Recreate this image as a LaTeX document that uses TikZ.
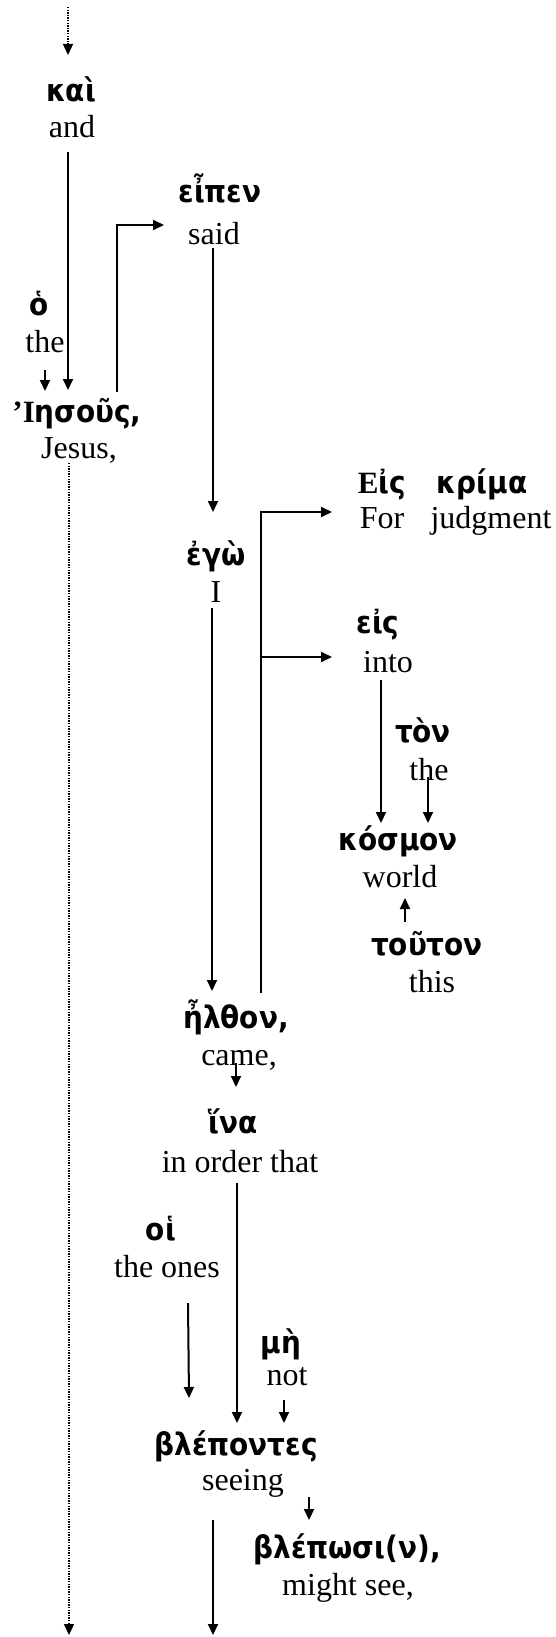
\documentclass[tikz,border=0pt]{standalone}
\usepackage{fontspec}
\setmainfont{Liberation Serif}
\newfontfamily\gkfont{DejaVu Sans}[FakeStretch=0.9]
\newfontfamily\capfont{Liberation Serif}
\usetikzlibrary{arrows.meta,calc}

\tikzset{
  gk/.style={anchor=base,inner sep=0pt,font=\gkfont\bfseries\fontsize{31}{34}\selectfont},
  en/.style={anchor=base,inner sep=0pt,font=\fontsize{32}{36}\selectfont},
  link/.style={line width=2pt,-{Triangle[length=11pt,width=10pt]}},
  trail/.style={line width=1.4pt,dash pattern=on 1.4pt off 1.2pt,-{Triangle[length=11pt,width=10pt]}},
}
\newcommand{\Cap}[1]{{\capfont\bfseries #1}}

\begin{document}
\begin{tikzpicture}[x=1pt,y=-1pt]
\useasboundingbox (0,0) rectangle (555,1637);

% words: Greek line above, English gloss below
\node[gk] (kai)      at (71,102)   {καὶ};
\node[en] (and)      at (72,138)   {and};
\node[gk] (eipen)    at (220,203)  {εἶπεν};
\node[en] (said)     at (214,245)  {said};
\node[gk] (ho)       at (39,315)   {ὁ};
\node[en] (the1)     at (45,352)   {the};
\node[gk] (iesous)   at (77,422)   {\Cap{’Ι}ησοῦς,};
\node[en] (jesus)    at (79,458)   {Jesus,};
\node[gk] (eis1)     at (382,493)  {\Cap{Ε}ἰς};
\node[gk] (krima)    at (482,493)  {κρίμα};
\node[en] (for)      at (382,528)  {For};
\node[en] (judgment) at (491,528)  {judgment};
\node[gk] (ego)      at (216,565)  {ἐγὼ};
\node[en] (I)        at (216,602)  {I};
\node[gk] (eis2)     at (378,633)  {εἰς};
\node[en] (into)     at (388,672)  {into};
\node[gk] (ton)      at (423,742)  {τὸν};
\node[en] (the2)     at (429,780)  {the};
\node[gk] (kosmon)   at (398,850)  {κόσμον};
\node[en] (world)    at (400,887)  {world};
\node[gk] (touton)   at (427,955)  {τοῦτον};
\node[en] (this)     at (432,992)  {this};
\node[gk] (elthon)   at (236,1028) {ἦλθον,};
\node[en] (came)     at (239,1065) {came,};
\node[gk] (hina)     at (233,1133) {ἵνα};
\node[en] (inorder)  at (240,1172) {in order that};
\node[gk] (hoi)      at (161,1240) {οἱ};
\node[en] (theones)  at (167,1277) {the ones};
\node[gk] (me)       at (281,1353) {μὴ};
\node[en] (not)      at (287,1385) {not};
\node[gk] (blepontes) at (236,1455) {βλέποντες};
\node[en] (seeing)   at (243,1490) {seeing};
\node[gk] (blepwsi)  at (347,1558) {βλέπωσι(ν),};
\node[en] (mightsee) at (348,1595) {might see,};

% loose ends of the dotted trails and the last link
\coordinate (topend) at (68,7);
\coordinate (leftend) at (69,1635);
\coordinate (midend) at (213,1635);

% dotted trails
\draw[trail] (topend) -- ($(kai.base)+(-3,-47)$);
\draw[trail] ($(jesus.base)+(-10,5)$) -- (leftend);

% links
\draw[link] ($(and.base)+(-4,14)$) -- ($(iesous.base)+(-9,-32)$);
\draw[link] ($(the1.base)+(0,18)$) -- ($(iesous.base)+(-32,-31)$);
\draw[link] ($(iesous.base)+(40,-30)$) |- ($(said.base)+(-50,-20)$);
\draw[link] ($(said.base)+(-1,3)$) -- ($(ego.base)+(-3,-53)$);
\draw[link] ($(I.base)+(-4,6)$) -- ($(elthon.base)+(-24,-37)$);
\draw[link] ($(elthon.base)+(25,-35)$) |- ($(for.base)+(-50,-16)$);
\draw[link] ($(elthon.base)+(25,-371)$) -- ($(into.base)+(-56,-15)$);
\draw[link] ($(into.base)+(-7,8)$) -- ($(kosmon.base)+(-17,-27)$);
\draw[link] ($(the2.base)+(-1,-3)$) -- ($(kosmon.base)+(30,-27)$);
\draw[link] ($(touton.base)+(-22,-33)$) -- ($(world.base)+(5,11)$);
\draw[link] ($(came.base)+(-3,-2)$) -- ($(hina.base)+(3,-46)$);
\draw[link] ($(inorder.base)+(-3,11)$) -- ($(blepontes.base)+(1,-32)$);
\draw[link] ($(theones.base)+(21,26)$) -- ($(blepontes.base)+(-47,-57)$);
\draw[link] ($(not.base)+(-3,15)$) -- ($(blepontes.base)+(48,-32)$);
\draw[link] ($(seeing.base)+(66,7)$) -- ($(blepwsi.base)+(-38,-38)$);
\draw[link] ($(seeing.base)+(-30,30)$) -- (midend);
\end{tikzpicture}
\end{document}
